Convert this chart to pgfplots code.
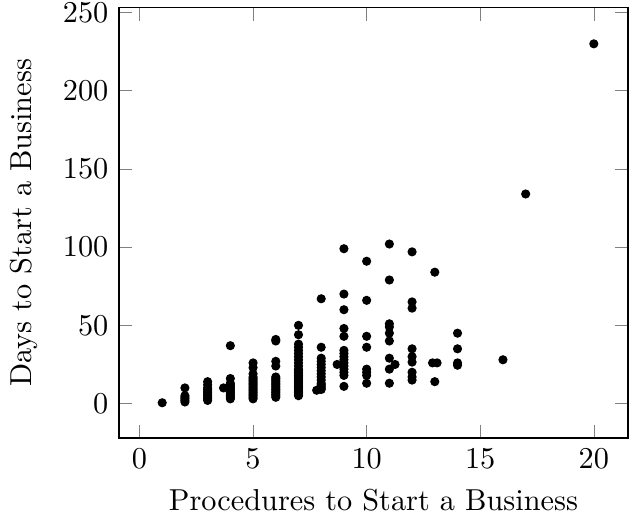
\documentclass[border=0pt]{standalone}
\usepackage{pgfplots}
\pgfplotsset{compat=1.18}
\begin{document}
\begin{tikzpicture}
    \begin{axis}[
            scale only axis,
            width=168pt,
            height=142pt,
            xlabel={Procedures to Start a Business},
            ylabel={Days to Start a Business},
            ylabel style={yshift=1.5pt},
            xmin=-0.9, xmax=21.5,
            ymin=-22, ymax=253,
            xtick={0,5,10,15,20},
            ytick={0,50,100,150,200,250},
        ]

        \addplot[
            only marks,
            mark=*,
            mark size=1.3pt,
            color=black,
        ]
        coordinates {
                (1, 0.5)
                (2, 10) (2, 5) (2, 4) (2, 3) (2, 2) (2, 1)
                (3, 14) (3, 12) (3, 10) (3, 9) (3, 8) (3, 7) (3, 6) (3, 5) (3, 4) (3, 3) (3, 2)
                (3.7, 10)
                (4, 37) (4, 16) (4, 13) (4, 12) (4, 11) (4, 10) (4, 9) (4, 8) (4, 7) (4, 6) (4, 5) (4, 4) (4, 3)
                (5, 26) (5, 23) (5, 19) (5, 17) (5, 16) (5, 15) (5, 14) (5, 13) (5, 12) (5, 11)
                (5, 10) (5, 9) (5, 8) (5, 7) (5, 6) (5, 5) (5, 4) (5, 3)
                (6, 41) (6, 40) (6, 27) (6, 24) (6, 17) (6, 16) (6, 15) (6, 14) (6, 13) (6, 12)
                (6, 11) (6, 10) (6, 9) (6, 8) (6, 7) (6, 6) (6, 5) (6, 4)
                (7, 50) (7, 44) (7, 38) (7, 36) (7, 34) (7, 32) (7, 30) (7, 28) (7, 26) (7, 24)
                (7, 22) (7, 21) (7, 20) (7, 19) (7, 18) (7, 17) (7, 16) (7, 15) (7, 14) (7, 13)
                (7, 12) (7, 11) (7, 10) (7, 9) (7, 8) (7, 7) (7, 6) (7, 5)
                (7.8, 8.5)
                (8, 67) (8, 36) (8, 29) (8, 27) (8, 25) (8, 23) (8, 21) (8, 19) (8, 17) (8, 15)
                (8, 13) (8, 12) (8, 11) (8, 10) (8, 9)
                (8.7, 25)
                (9, 99) (9, 70) (9, 60) (9, 48) (9, 43) (9, 34) (9, 32) (9, 30) (9, 28) (9, 26)
                (9, 24) (9, 22) (9, 20) (9, 18) (9, 11)
                (10, 91) (10, 66) (10, 43) (10, 36) (10, 22) (10, 20) (10, 18) (10, 13)
                (11, 102) (11, 79) (11, 51) (11, 49) (11, 45) (11, 40) (11, 29) (11, 22) (11, 13)
                (11.25, 25)
                (12, 97) (12, 65) (12, 61) (12, 35) (12, 30) (12, 26.5) (12, 20) (12, 17) (12, 15)
                (12.9, 26) (13.1, 26) (13, 84) (13, 14)
                (14, 45) (14, 35) (14, 26) (14, 24.5)
                (16, 28)
                (17, 134)
                (20, 230)
            };

    \end{axis}
    % tight crop like the reference
    \pgfresetboundingbox
    \path ([xshift=-39.3pt,yshift=-28pt]current axis.south west)
        rectangle ([xshift=0.7pt,yshift=2.6pt]current axis.north east);
\end{tikzpicture}
\end{document}
